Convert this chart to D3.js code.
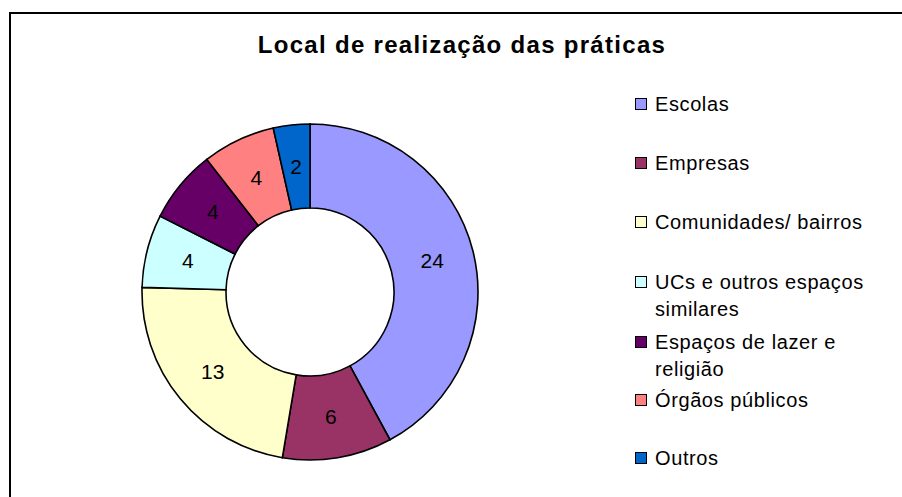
<!DOCTYPE html>
<html>
<head>
<meta charset="utf-8">
<script src="https://cdn.jsdelivr.net/npm/d3@7"></script>
<style>
  body { margin: 0; background: #fff; }
  text { font-family: "Liberation Sans", Arial, sans-serif; }
</style>
</head>
<body>
<script>
var width = 902, height = 497;

var categories = ["Escolas", "Empresas", "Comunidades/ bairros", "UCs e outros espaços similares",
                  "Espaços de lazer e religião", "Órgãos públicos", "Outros"];
var values = [24, 6, 13, 4, 4, 4, 2];
var colors = ["#9999FF", "#993366", "#FFFFCC", "#CCFFFF", "#660066", "#FF8080", "#0066CC"];
// legend text, wrapped as in the original
var legendLines = [["Escolas"], ["Empresas"], ["Comunidades/ bairros"], ["UCs e outros espaços", "similares"],
                   ["Espaços de lazer e", "religião"], ["Órgãos públicos"], ["Outros"]];

var svg = d3.select("body").append("svg")
    .attr("width", width)
    .attr("height", height);

// chart frame (runs off the right and bottom edges)
svg.append("rect")
    .attr("x", 10).attr("y", 13)
    .attr("width", 920).attr("height", 500)
    .attr("fill", "#fff")
    .attr("stroke", "#000")
    .attr("stroke-width", 2);

svg.append("text")
    .attr("x", 462).attr("y", 53)
    .attr("text-anchor", "middle")
    .style("font-size", "24px")
    .style("font-weight", "bold")
    .style("letter-spacing", "1.3px")
    .text("Local de realização das práticas");

var cx = 310, cy = 292, outerR = 168, innerR = 84;

var pie = d3.pie().sort(null);
var arc = d3.arc().innerRadius(innerR).outerRadius(outerR);

var g = svg.append("g")
    .attr("transform", "translate(" + cx + "," + cy + ")");

var slices = g.selectAll("g.slice")
    .data(pie(values))
    .enter().append("g")
    .attr("class", "slice");

slices.append("path")
    .attr("d", arc)
    .attr("fill", function(d, i) { return colors[i]; })
    .attr("stroke", "#000")
    .attr("stroke-width", 1.6);

slices.append("text")
    .attr("transform", function(d) { return "translate(" + arc.centroid(d) + ")"; })
    .attr("text-anchor", "middle")
    .attr("dy", "0.35em")
    .style("font-size", "21px")
    .text(function(d) { return d.data; });

// legend
var legendY = [104, 163, 222, 282, 342, 400, 458];
var legend = svg.selectAll("g.legend")
    .data(categories)
    .enter().append("g")
    .attr("class", "legend")
    .attr("transform", function(d, i) { return "translate(635," + legendY[i] + ")"; });

legend.append("rect")
    .attr("x", 0.5).attr("y", -5.5)
    .attr("width", 11).attr("height", 11)
    .attr("fill", function(d, i) { return colors[i]; })
    .attr("stroke", "#000")
    .attr("stroke-width", 1);

legend.append("text")
    .attr("x", 20)
    .attr("y", 7)
    .style("font-size", "20px")
    .style("letter-spacing", "0.6px")
    .each(function(d, i) {
        var t = d3.select(this);
        legendLines[i].forEach(function(line, j) {
            t.append("tspan")
                .attr("x", 20)
                .attr("dy", j === 0 ? 0 : 27)
                .text(line);
        });
    });
</script>
</body>
</html>
